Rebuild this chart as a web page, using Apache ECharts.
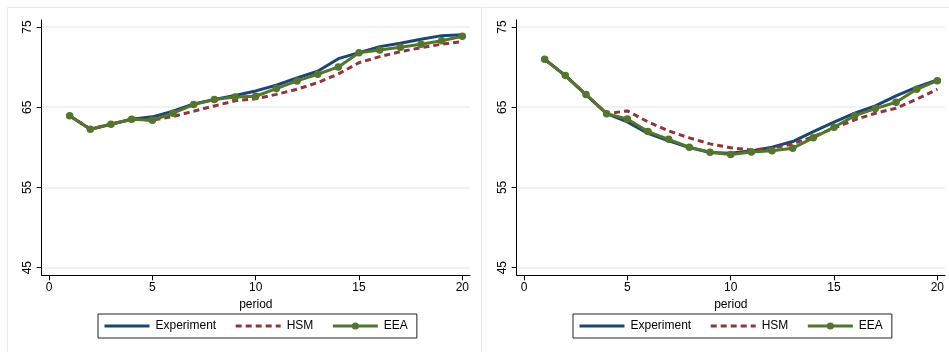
<!DOCTYPE html>
<html>
<head>
<meta charset="utf-8">
<script src="https://cdn.jsdelivr.net/npm/echarts@6.0.0/dist/echarts.min.js"></script>
<style>
html,body{margin:0;padding:0;background:#fff;}
#chart{width:949px;height:352px;}
</style>
</head>
<body>
<div id="chart"></div>
<script>
var periods = [1,2,3,4,5,6,7,8,9,10,11,12,13,14,15,16,17,18,19,20];
var seriesNames = ['Experiment','HSM','EEA'];
var xTicks = [0,5,10,15,20];
var yTicks = [45,55,65,75];

var leftExperiment = [63.95,62.26,62.88,63.5,63.8,64.5,65.4,65.95,66.45,67.03,67.74,68.65,69.48,71.05,71.8,72.55,72.97,73.47,73.92,74.04];
var leftHSM        = [63.95,62.26,62.88,63.5,63.4,63.83,64.5,65.16,65.8,66.05,66.6,67.24,68.06,69.15,70.55,71.3,71.92,72.42,72.85,73.17];
var leftEEA        = [63.95,62.26,62.88,63.5,63.38,64.25,65.33,65.95,66.28,66.37,67.32,68.28,69.11,70.02,71.8,72.14,72.47,72.85,73.29,73.84];

var rightExperiment = [70.98,68.94,66.57,64.2,63.16,61.74,60.8,59.97,59.35,59.26,59.56,60.02,60.72,61.96,63.13,64.25,65.16,66.41,67.49,68.4];
var rightHSM        = [70.98,68.94,66.57,64.2,64.54,63.17,62.05,61.18,60.43,59.95,59.68,59.89,60.43,61.34,62.38,63.42,64.25,64.87,66.0,67.24];
var rightEEA        = [70.98,68.94,66.57,64.2,63.54,61.96,61.0,60.02,59.4,59.1,59.43,59.56,59.89,61.18,62.51,63.95,64.83,65.62,67.24,68.31];

var FONT = "'Liberation Sans', Arial, sans-serif";
var colors = {Experiment:'#1a476f', HSM:'#90353b', EEA:'#55752f'};

function pairs(vals){ return periods.map(function(p,i){ return [p, vals[i]]; }); }

function makeX(idx){
  return {
    gridIndex: idx, type:'value', min:-0.353, max:20.37,
    name:'period', nameLocation:'middle', nameGap:18,
    nameTextStyle:{fontFamily:FONT, fontSize:12, color:'#000', verticalAlign:'top'},
    axisLine:{show:true, onZero:false, lineStyle:{color:'#000', width:1}},
    axisTick:{show:true, customValues:xTicks, length:5, lineStyle:{color:'#000', width:1}},
    axisLabel:{customValues:xTicks, margin:6, fontFamily:FONT, fontSize:12, color:'#000'},
    splitLine:{show:false}
  };
}
function makeY(idx){
  return {
    gridIndex: idx, type:'value', min:44.05, max:75.87,
    axisLine:{show:true, onZero:false, lineStyle:{color:'#000', width:1}},
    axisTick:{show:true, customValues:yTicks, length:5, lineStyle:{color:'#000', width:1}},
    axisLabel:{show:true, customValues:yTicks, rotate:90, margin:8, fontFamily:FONT, fontSize:12, color:'#000'},
    splitLine:{show:true, lineStyle:{color:'#e8eef0', width:1.5}}
  };
}
function makeSeries(idx, exp, hsm, eea){
  return [
    {name:'Experiment', type:'line', xAxisIndex:idx, yAxisIndex:idx, data:pairs(exp),
     symbol:'none', lineStyle:{color:colors.Experiment, width:3}, itemStyle:{color:colors.Experiment}, animation:false, z:2},
    {name:'HSM', type:'line', xAxisIndex:idx, yAxisIndex:idx, data:pairs(hsm),
     symbol:'none', lineStyle:{color:colors.HSM, width:3, type:[6,4]}, itemStyle:{color:colors.HSM}, animation:false, z:3},
    {name:'EEA', type:'line', xAxisIndex:idx, yAxisIndex:idx, data:pairs(eea),
     symbol:'circle', symbolSize:7.5, showSymbol:true, lineStyle:{color:colors.EEA, width:3}, itemStyle:{color:colors.EEA}, animation:false, z:4}
  ];
}
function makeLegend(left){
  return {
    left:left, top:314, orient:'horizontal',
    data:[
      {name:'Experiment', itemStyle:{opacity:0, color:'rgba(0,0,0,0)', borderWidth:0}, lineStyle:{width:3}},
      {name:'HSM', itemStyle:{opacity:0, color:'rgba(0,0,0,0)', borderWidth:0}, lineStyle:{width:3}},
      {name:'EEA', lineStyle:{width:3}}
    ],
    itemWidth:45, itemHeight:9, itemGap:18,
    padding:[6,9,6,5],
    borderColor:'#222', borderWidth:1,
    textStyle:{fontFamily:FONT, fontSize:12, color:'#000', padding:[0,0,0,1]},
    selectedMode:false
  };
}

var chart = echarts.init(document.getElementById('chart'), null, {renderer:'canvas'});
chart.setOption({
  backgroundColor:'#fff',
  animation:false,
  graphic:[
    {type:'rect', silent:true, z:-10, shape:{x:7.5, y:7.5, width:474, height:400}, style:{fill:'none', stroke:'#e5ecee', lineWidth:1}},
    {type:'rect', silent:true, z:-10, shape:{x:481.5, y:7.5, width:480, height:400}, style:{fill:'none', stroke:'#e5ecee', lineWidth:1}}
  ],
  grid:[
    {left:41.7, top:20, width:428.3, height:255.3},
    {left:516.7, top:20, width:428.3, height:255.3}
  ],
  xAxis:[makeX(0), makeX(1)],
  yAxis:[makeY(0), makeY(1)],
  legend:[makeLegend(98), makeLegend(573)],
  series: makeSeries(0, leftExperiment, leftHSM, leftEEA).concat(makeSeries(1, rightExperiment, rightHSM, rightEEA))
});
</script>
</body>
</html>
